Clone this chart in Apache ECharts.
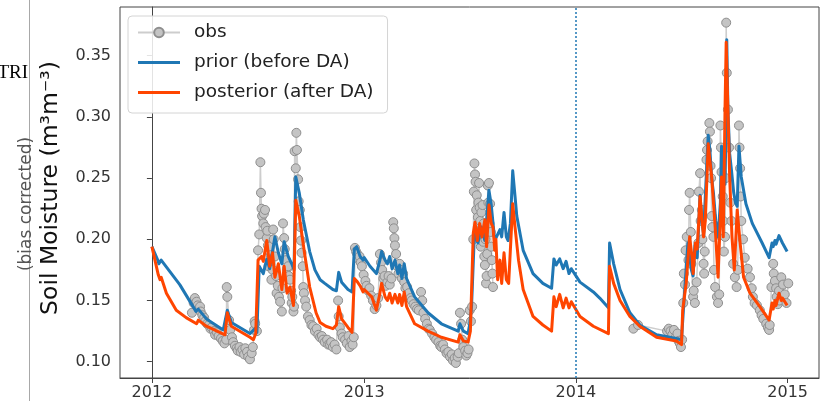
<!DOCTYPE html>
<html>
<head>
<meta charset="utf-8">
<script src="https://cdn.jsdelivr.net/npm/echarts@6/dist/echarts.min.js"></script>
<style>
  html, body { margin: 0; padding: 0; background: #fff; }
  #chart { width: 823px; height: 401px; }
</style>
</head>
<body>
<div id="chart"></div>
<script>
// x values are days since 2012-01-01
const START_UTC = Date.UTC(2012, 0, 1);
const yearTicks = [0, 366, 731, 1096];           // Jan 1st of 2012 .. 2015
const moistureTicks = [0.10, 0.15, 0.20, 0.25, 0.30, 0.35];
const daStartDay = 731;                           // assimilation starts 2014-01-01

// observations, 2012-03 .. 2013-08
const obs2012to2013 = [
  [69,0.140],[72,0.148],[74,0.152],[77,0.149],[79,0.146],[81,0.143],[83,0.145],[84,0.141],[87,0.138],[90,0.136],
  [92,0.133],[95,0.131],[98,0.130],[101,0.127],[103,0.128],[107,0.125],[109,0.122],[112,0.124],[115,0.121],[119,0.119],
  [122,0.117],[125,0.115],[128,0.118],[129,0.161],[130,0.153],[133,0.134],[135,0.126],[138,0.120],[140,0.116],[143,0.113],
  [146,0.111],[148,0.109],[151,0.112],[153,0.108],[156,0.110],[159,0.106],[161,0.111],[164,0.108],[166,0.104],[169,0.102],
  [172,0.107],[174,0.112],[176,0.126],[177,0.133],[178,0.131],[181,0.125],
  [183,0.191],[185,0.204],[187,0.263],[188,0.238],[189,0.225],[190,0.219],[192,0.213],[193,0.221],[195,0.224],[196,0.210],
  [198,0.201],[199,0.207],[200,0.195],[201,0.178],[203,0.194],[205,0.187],[206,0.167],[208,0.175],[209,0.208],[210,0.200],
  [212,0.186],[214,0.170],[215,0.156],[217,0.162],[219,0.153],[221,0.149],[224,0.141],[225,0.160],[226,0.213],[228,0.201],
  [229,0.192],[231,0.183],[233,0.176],[235,0.178],[236,0.170],[238,0.167],[240,0.158],[241,0.148],[242,0.153],[244,0.141],
  [245,0.145],[246,0.272],[248,0.258],[249,0.287],[250,0.273],[252,0.249],[253,0.231],[255,0.224],[256,0.210],[257,0.199],
  [258,0.189],[260,0.178],[261,0.161],[262,0.156],[264,0.150],[266,0.145],[269,0.137],[272,0.134],[275,0.130],[278,0.129],
  [281,0.125],[284,0.127],[287,0.122],[290,0.120],[293,0.121],[295,0.118],[298,0.116],[302,0.118],[304,0.114],[307,0.114],
  [309,0.116],[312,0.112],[315,0.114],[318,0.110],[321,0.150],[322,0.137],[324,0.128],[327,0.123],[329,0.120],[333,0.118],
  [336,0.115],[339,0.121],[341,0.112],[344,0.117],[346,0.114],[348,0.120],
  [350,0.193],[352,0.190],[354,0.188],[356,0.184],[358,0.186],[360,0.181],[362,0.178],[365,0.171],[368,0.166],[370,0.162],
  [373,0.158],[375,0.160],[378,0.154],[381,0.150],[384,0.143],[387,0.146],[390,0.152],[393,0.188],[395,0.181],[397,0.175],
  [399,0.168],[401,0.170],[403,0.162],[406,0.165],[408,0.170],[410,0.163],[413,0.168],[416,0.214],[417,0.209],[418,0.201],
  [419,0.195],[421,0.188],[423,0.178],[425,0.172],[427,0.180],[429,0.175],[431,0.168],[433,0.172],[435,0.165],[437,0.160],
  [440,0.161],[443,0.156],[446,0.152],[448,0.150],[451,0.147],[454,0.145],[457,0.143],[460,0.142],[464,0.157],[466,0.150],
  [468,0.140],[471,0.135],[474,0.131],[477,0.127],[479,0.126],[483,0.123],[487,0.120],[490,0.118],[494,0.116],[497,0.113],
  [499,0.112],[502,0.114],[505,0.110],[508,0.107],[511,0.108],[514,0.104],[517,0.106],[519,0.101],[522,0.103],[524,0.099],
  [527,0.104],[529,0.107],[531,0.140],[533,0.131],[535,0.118],[537,0.112],[540,0.109],[542,0.105],[544,0.107],[546,0.110],
  [548,0.142],[550,0.133],[552,0.145],
  [554,0.200],[555,0.239],[556,0.262],[557,0.253],[558,0.247],[559,0.224],[560,0.236],[561,0.205],[562,0.218],[563,0.230],
  [564,0.246],[565,0.226],[566,0.215],[567,0.194],[568,0.222],[569,0.209],[570,0.228],[571,0.198],[572,0.213],[573,0.186],
  [574,0.179],[575,0.200],[576,0.164],[577,0.170],[578,0.188],[579,0.244],[580,0.230],[581,0.246],[582,0.213],[583,0.229],
  [584,0.206],[585,0.194],[586,0.183],[587,0.172],[588,0.161]
];

// observations, 2014-04 .. 2015-01
const obs2014 = [
  [830,0.127],[838,0.130],[888,0.125],[891,0.127],[894,0.125],[897,0.122],[900,0.126],[903,0.120],[906,0.123],[908,0.117],
  [910,0.115],[912,0.112],[914,0.118],[916,0.148],[917,0.172],[919,0.163],[920,0.191],[922,0.202],[925,0.183],[926,0.224],
  [927,0.238],[929,0.206],[930,0.180],[933,0.153],[934,0.158],[936,0.148],[939,0.165],[942,0.197],[943,0.239],[945,0.254],
  [946,0.215],[948,0.224],[949,0.200],[951,0.180],[952,0.172],[953,0.190],[956,0.265],[957,0.273],[958,0.280],[961,0.295],
  [962,0.288],[963,0.260],[964,0.250],[965,0.219],[966,0.210],[968,0.202],[969,0.175],[971,0.161],[974,0.153],[976,0.148],
  [978,0.155],[980,0.293],[981,0.275],[982,0.255],[984,0.235],[985,0.215],[986,0.190],[988,0.202],[989,0.250],[990,0.377],
  [991,0.336],[993,0.306],[995,0.275],[997,0.230],[999,0.215],[1002,0.180],[1005,0.169],[1008,0.161],[1010,0.175],[1012,0.293],
  [1013,0.275],[1014,0.258],[1015,0.235],[1016,0.215],[1019,0.200],[1022,0.185],[1027,0.176],[1031,0.169],[1034,0.160],[1036,0.153],
  [1039,0.148],[1043,0.146],[1048,0.142],[1051,0.138],[1054,0.135],[1059,0.131],[1062,0.128],[1064,0.126],[1065,0.130],[1068,0.161],
  [1071,0.180],[1072,0.172],[1074,0.166],[1076,0.160],[1077,0.153],[1079,0.147],[1081,0.158],[1082,0.150],[1085,0.169],[1088,0.163],
  [1091,0.155],[1094,0.148],[1097,0.164]
];

// open-loop model run (before DA)
const prior = [
  [0,0.194],[11,0.182],[12,0.180],[16,0.183],[48,0.163],[71,0.145],[76,0.141],[80,0.143],[94,0.135],[123,0.126],
  [130,0.142],[137,0.132],[169,0.123],[178,0.127],[181,0.124],[185,0.178],[192,0.172],[198,0.184],[203,0.176],[212,0.202],
  [218,0.189],[224,0.180],[228,0.198],[235,0.186],[241,0.180],[245,0.175],[248,0.251],[254,0.238],[261,0.216],[272,0.190],
  [281,0.175],[290,0.167],[298,0.164],[312,0.159],[318,0.158],[322,0.173],[327,0.165],[338,0.159],[345,0.157],[349,0.192],
  [353,0.194],[359,0.186],[364,0.183],[366,0.185],[376,0.178],[387,0.172],[393,0.183],[396,0.190],[402,0.183],[406,0.180],
  [410,0.186],[414,0.176],[419,0.183],[424,0.172],[427,0.179],[431,0.168],[435,0.180],[439,0.168],[453,0.153],[476,0.140],
  [499,0.131],[528,0.125],[531,0.131],[537,0.125],[545,0.123],[548,0.131],[551,0.145],[556,0.205],[562,0.197],[568,0.210],
  [574,0.199],[581,0.240],[585,0.228],[591,0.199],[600,0.208],[603,0.202],[607,0.222],[611,0.202],[614,0.199],[618,0.213],
  [622,0.256],[626,0.235],[629,0.219],[640,0.191],[657,0.172],[674,0.164],[689,0.160],[693,0.184],[697,0.179],[703,0.184],
  [709,0.176],[714,0.182],[719,0.172],[723,0.176],[738,0.165],[761,0.157],[772,0.152],[787,0.144],[789,0.197],[796,0.180],
  [807,0.159],[824,0.140],[841,0.130],[870,0.122],[904,0.119],[913,0.118],[917,0.148],[924,0.197],[930,0.175],[933,0.170],
  [936,0.195],[940,0.185],[945,0.236],[948,0.215],[951,0.205],[957,0.265],[959,0.285],[962,0.272],[965,0.250],[968,0.238],
  [972,0.215],[976,0.202],[980,0.230],[982,0.276],[985,0.255],[988,0.245],[990,0.300],[991,0.363],[993,0.306],[996,0.270],
  [999,0.257],[1003,0.238],[1006,0.230],[1009,0.227],[1012,0.276],[1016,0.251],[1024,0.229],[1035,0.213],[1052,0.197],[1064,0.185],
  [1069,0.197],[1071,0.194],[1074,0.199],[1076,0.196],[1081,0.203],[1087,0.197],[1095,0.190]
];

// analysis run (after DA)
const posterior = [
  [0,0.194],[11,0.171],[14,0.167],[16,0.169],[25,0.156],[42,0.142],[59,0.136],[77,0.131],[80,0.134],[94,0.129],
  [126,0.122],[130,0.140],[137,0.129],[169,0.120],[175,0.118],[179,0.123],[183,0.183],[189,0.186],[192,0.182],[198,0.199],
  [203,0.178],[208,0.189],[212,0.169],[218,0.180],[224,0.159],[228,0.178],[233,0.156],[238,0.161],[244,0.146],[248,0.232],
  [254,0.219],[263,0.189],[272,0.161],[283,0.140],[290,0.132],[300,0.129],[312,0.127],[318,0.130],[322,0.145],[327,0.135],
  [338,0.128],[345,0.124],[349,0.168],[353,0.166],[359,0.162],[364,0.157],[366,0.159],[379,0.153],[387,0.142],[393,0.156],
  [396,0.164],[402,0.153],[406,0.150],[410,0.156],[414,0.148],[419,0.155],[424,0.148],[427,0.155],[431,0.146],[435,0.157],
  [439,0.145],[453,0.131],[476,0.125],[499,0.120],[528,0.116],[531,0.122],[537,0.117],[545,0.116],[549,0.125],[554,0.205],
  [557,0.214],[561,0.199],[565,0.213],[569,0.202],[574,0.216],[577,0.194],[581,0.228],[585,0.213],[588,0.210],[591,0.191],
  [593,0.200],[596,0.167],[600,0.183],[603,0.164],[607,0.189],[611,0.167],[615,0.164],[622,0.229],[626,0.210],[632,0.183],
  [640,0.159],[657,0.137],[674,0.130],[689,0.125],[693,0.153],[697,0.145],[703,0.155],[709,0.144],[714,0.152],[719,0.144],
  [723,0.149],[738,0.137],[761,0.129],[787,0.123],[789,0.178],[796,0.164],[807,0.150],[824,0.137],[841,0.129],[870,0.120],
  [904,0.117],[913,0.114],[915,0.142],[921,0.164],[927,0.202],[931,0.186],[933,0.172],[937,0.197],[940,0.192],[945,0.235],
  [948,0.218],[951,0.202],[954,0.215],[959,0.278],[965,0.251],[971,0.210],[976,0.169],[980,0.219],[982,0.251],[985,0.202],
  [988,0.306],[990,0.361],[993,0.306],[996,0.251],[1000,0.202],[1004,0.175],[1009,0.224],[1014,0.197],[1020,0.169],[1031,0.156],
  [1048,0.145],[1064,0.134],[1069,0.148],[1071,0.143],[1074,0.150],[1076,0.146],[1081,0.156],[1085,0.150],[1087,0.152],[1095,0.146]
];

// the observation line is broken over the winter without measurements
const obsSeriesData = obs2012to2013.concat([[709, '-']], obs2014);

const FONT = '"DejaVu Sans", sans-serif';
const AXIS_COLOR = '#444';
// plain thick bar used as the legend key of the model runs
const LINE_KEY = 'path://M0,0H42V3H0Z';

const chart = echarts.init(document.getElementById('chart'), null, { renderer: 'canvas' });

chart.setOption({
  animation: false,
  backgroundColor: '#fff',
  textStyle: { fontFamily: FONT },
  grid: {
    left: 120, right: 4, top: 7, bottom: 23,
    show: true, borderColor: AXIS_COLOR, borderWidth: 1,
    containLabel: false, outerBoundsMode: 'none'
  },
  xAxis: {
    type: 'value',
    min: -55, max: 1150,
    axisLine: { show: true, lineStyle: { color: AXIS_COLOR, width: 1 } },
    axisTick: { show: true, length: 5, customValues: yearTicks, lineStyle: { color: AXIS_COLOR } },
    axisLabel: {
      customValues: yearTicks,
      formatter: v => String(new Date(START_UTC + v * 86400000).getUTCFullYear()),
      fontSize: 16, color: '#333', margin: 7, fontFamily: FONT
    },
    splitLine: { show: false }
  },
  yAxis: {
    type: 'value',
    min: 0.0867, max: 0.3898,
    axisLine: { show: true, lineStyle: { color: AXIS_COLOR, width: 1 } },
    axisTick: { show: true, length: 5, customValues: moistureTicks, lineStyle: { color: AXIS_COLOR } },
    axisLabel: {
      customValues: moistureTicks,
      formatter: v => v.toFixed(2),
      fontSize: 16, color: '#333', margin: 9, fontFamily: FONT
    },
    splitLine: { show: false }
  },
  legend: {
    data: [
      { name: 'obs' },
      { name: 'prior (before DA)', icon: LINE_KEY },
      { name: 'posterior (after DA)', icon: LINE_KEY }
    ],
    orient: 'vertical',
    left: 128, top: 16,
    itemWidth: 42, itemHeight: 12, itemGap: 11,
    padding: [7, 14, 11, 9],
    borderColor: '#d4d4d4', borderWidth: 1, borderRadius: 4,
    backgroundColor: 'rgba(255,255,255,0.85)',
    selectedMode: false,
    textStyle: { fontSize: 18.5, color: '#222', fontFamily: FONT, padding: [0, 0, 0, 9] }
  },
  series: [
    {
      name: 'obs',
      type: 'line',
      data: obsSeriesData,
      symbol: 'circle',
      symbolSize: 9,
      showSymbol: true,
      connectNulls: false,
      lineStyle: { color: '#cdcdcd', width: 1.5 },
      itemStyle: { color: '#c4c4c4', borderColor: '#8e8e8e', borderWidth: 1 },
      emphasis: { disabled: true },
      z: 1
    },
    {
      name: 'prior (before DA)',
      type: 'line',
      data: prior,
      symbol: 'none',
      lineStyle: { color: '#1f77b4', width: 3, join: 'round' },
      itemStyle: { color: '#1f77b4' },
      emphasis: { disabled: true },
      z: 2,
      markLine: {
        silent: true,
        symbol: ['none', 'none'],
        label: { show: false },
        lineStyle: { color: '#1f77b4', type: [2, 2], width: 1.5 },
        data: [{ xAxis: daStartDay }]
      }
    },
    {
      name: 'posterior (after DA)',
      type: 'line',
      data: posterior,
      symbol: 'none',
      lineStyle: { color: '#ff4500', width: 3, join: 'round' },
      itemStyle: { color: '#ff4500' },
      emphasis: { disabled: true },
      z: 3
    }
  ],
  graphic: [
    {
      type: 'line', silent: true,
      shape: { x1: 29.5, y1: 0, x2: 29.5, y2: 401 },
      style: { stroke: '#a8a8a8', lineWidth: 1 }
    },
    {
      type: 'text', silent: true, x: 28, y: 73,
      style: { text: 'TRI', font: '19px "Liberation Serif", serif', fill: '#000', align: 'right', verticalAlign: 'middle' }
    },
    {
      type: 'text', silent: true, x: 27, y: 204, rotation: Math.PI / 2,
      style: { text: '(bias corrected)', font: '17px "DejaVu Sans", sans-serif', fill: '#555', align: 'center', verticalAlign: 'middle' }
    },
    {
      type: 'text', silent: true, x: 51, y: 188, rotation: Math.PI / 2,
      style: { text: 'Soil Moisture (m³m⁻³)', font: '23.5px "DejaVu Sans", sans-serif', fill: '#111', align: 'center', verticalAlign: 'middle' }
    }
  ]
});
</script>
</body>
</html>
